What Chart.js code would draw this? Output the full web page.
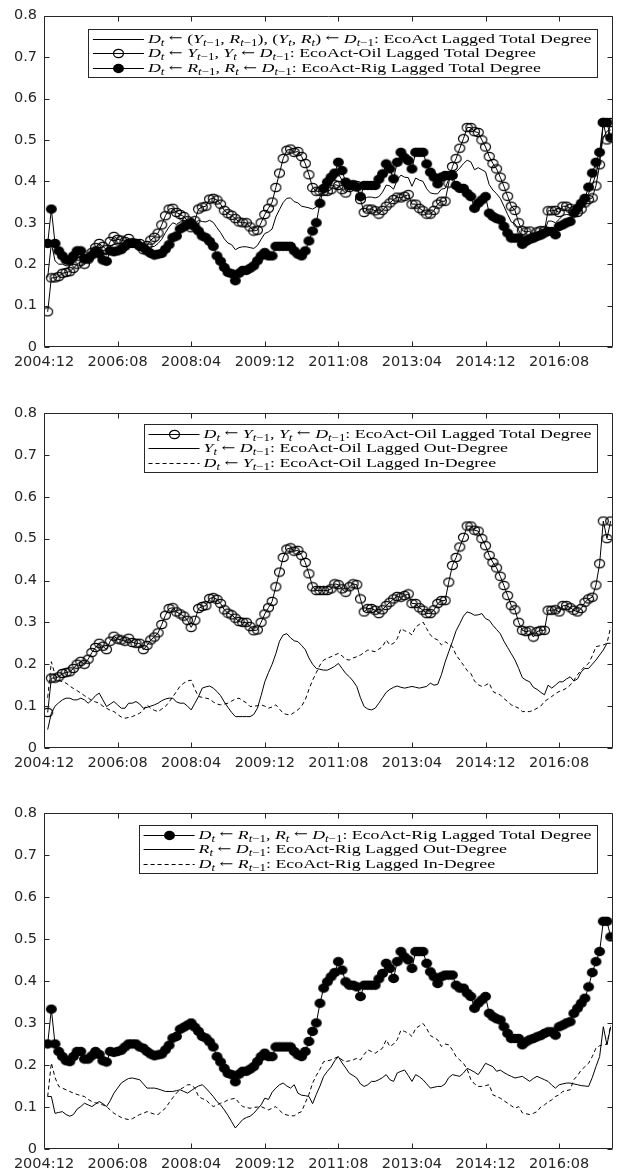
<!DOCTYPE html>
<html>
<head>
<meta charset="utf-8">
<script src="https://cdn.jsdelivr.net/npm/chart.js@4.4.1/dist/chart.umd.min.js"></script>
<style>
  html, body { margin: 0; padding: 0; background: #fff; }
  #wrap { position: relative; width: 618px; height: 1175px; overflow: hidden; background: #fff; }
  #wrap canvas { position: absolute; left: 0; }
</style>
</head>
<body>
<div id="wrap">
  <canvas id="p1" width="618" height="390" style="top:0px"></canvas>
  <canvas id="p2" width="618" height="390" style="top:390px"></canvas>
  <canvas id="p3" width="618" height="395" style="top:780px"></canvas>
</div>
<script>
// ---- x axis: monthly observations, ticks every 20 months ----
const tickLabels = ['2004:12', '2006:08', '2008:04', '2009:12', '2011:08', '2013:04', '2014:12', '2016:08'];
const firstMonth = '2005:01';

// ---- lagged degree series, one value per month from 2005:01 ----
const ecoActTotal = [
  0.168, 0.250, 0.208, 0.200, 0.200, 0.196, 0.196, 0.205, 0.215, 0.220,
  0.208, 0.213, 0.225, 0.236, 0.238, 0.227, 0.222, 0.243, 0.248, 0.246,
  0.246, 0.249, 0.256, 0.251, 0.250, 0.246, 0.238, 0.238, 0.242, 0.243,
  0.250, 0.260, 0.276, 0.290, 0.300, 0.296, 0.302, 0.302, 0.300, 0.294,
  0.298, 0.306, 0.303, 0.302, 0.306, 0.301, 0.288, 0.276, 0.261, 0.251,
  0.247, 0.235, 0.240, 0.242, 0.242, 0.240, 0.238, 0.245, 0.260, 0.274,
  0.278, 0.285, 0.314, 0.332, 0.349, 0.359, 0.360, 0.351, 0.348, 0.340,
  0.338, 0.336, 0.333, 0.338, 0.362, 0.380, 0.387, 0.395, 0.406, 0.418,
  0.403, 0.385, 0.388, 0.391, 0.388, 0.360, 0.358, 0.362, 0.362, 0.360,
  0.363, 0.374, 0.391, 0.389, 0.381, 0.404, 0.415, 0.410, 0.409, 0.388,
  0.408, 0.403, 0.400, 0.382, 0.372, 0.370, 0.370, 0.381, 0.383, 0.405,
  0.425, 0.423, 0.432, 0.443, 0.451, 0.447, 0.428, 0.433, 0.428, 0.423,
  0.392, 0.379, 0.370, 0.359, 0.340, 0.320, 0.302, 0.297, 0.282, 0.265,
  0.267, 0.270, 0.264, 0.273, 0.276, 0.278, 0.304, 0.304, 0.300, 0.308,
  0.318, 0.320, 0.319, 0.326, 0.330, 0.340, 0.354, 0.371, 0.390, 0.418,
  0.455, 0.506, 0.521, 0.524
];

const ecoActOilTotal = [
  0.085, 0.167, 0.167, 0.170, 0.178, 0.180, 0.182, 0.190, 0.200, 0.207,
  0.200, 0.212, 0.228, 0.240, 0.250, 0.243, 0.235, 0.255, 0.267, 0.260,
  0.258, 0.255, 0.262, 0.252, 0.250, 0.250, 0.235, 0.245, 0.258, 0.265,
  0.275, 0.295, 0.317, 0.333, 0.335, 0.325, 0.320, 0.315, 0.305, 0.288,
  0.305, 0.333, 0.338, 0.340, 0.357, 0.359, 0.355, 0.345, 0.330, 0.322,
  0.318, 0.310, 0.302, 0.300, 0.300, 0.290, 0.280, 0.282, 0.300, 0.320,
  0.335, 0.350, 0.385, 0.420, 0.455, 0.475, 0.478, 0.470, 0.472, 0.460,
  0.443, 0.416, 0.385, 0.376, 0.376, 0.376, 0.376, 0.380, 0.392, 0.390,
  0.380, 0.372, 0.385, 0.392, 0.390, 0.356, 0.325, 0.333, 0.333, 0.329,
  0.321, 0.330, 0.340, 0.348, 0.356, 0.362, 0.360, 0.364, 0.368, 0.345,
  0.345, 0.335, 0.329, 0.321, 0.321, 0.330, 0.345, 0.352, 0.352, 0.396,
  0.436, 0.455, 0.480, 0.503, 0.530, 0.530, 0.520, 0.518, 0.500, 0.483,
  0.460, 0.443, 0.430, 0.410, 0.388, 0.364, 0.340, 0.330, 0.300, 0.281,
  0.278, 0.280, 0.265, 0.278, 0.281, 0.281, 0.329, 0.329, 0.330, 0.325,
  0.340, 0.340, 0.335, 0.329, 0.325, 0.333, 0.348, 0.356, 0.360, 0.389,
  0.440, 0.542, 0.500, 0.542
];

const ecoActRigTotal = [
  0.250, 0.333, 0.250, 0.232, 0.220, 0.210, 0.208, 0.220, 0.232, 0.232,
  0.214, 0.214, 0.222, 0.232, 0.225, 0.210, 0.207, 0.232, 0.230, 0.232,
  0.235, 0.243, 0.250, 0.250, 0.250, 0.243, 0.240, 0.232, 0.226, 0.222,
  0.224, 0.226, 0.236, 0.247, 0.264, 0.268, 0.285, 0.290, 0.295, 0.300,
  0.290, 0.280, 0.268, 0.264, 0.255, 0.243, 0.220, 0.207, 0.192, 0.180,
  0.177, 0.160, 0.178, 0.185, 0.185, 0.190, 0.196, 0.208, 0.220, 0.228,
  0.220, 0.220, 0.243, 0.243, 0.243, 0.243, 0.243, 0.232, 0.224, 0.220,
  0.232, 0.256, 0.280, 0.300, 0.347, 0.383, 0.398, 0.410, 0.420, 0.446,
  0.426, 0.398, 0.390, 0.390, 0.386, 0.363, 0.390, 0.390, 0.390, 0.390,
  0.405, 0.418, 0.442, 0.430, 0.406, 0.446, 0.470, 0.457, 0.450, 0.430,
  0.470, 0.470, 0.470, 0.442, 0.422, 0.410, 0.394, 0.410, 0.414, 0.414,
  0.414, 0.390, 0.383, 0.383, 0.371, 0.363, 0.335, 0.347, 0.355, 0.363,
  0.323, 0.315, 0.310, 0.307, 0.291, 0.275, 0.263, 0.263, 0.263, 0.248,
  0.255, 0.260, 0.263, 0.267, 0.270, 0.275, 0.279, 0.279, 0.271, 0.291,
  0.295, 0.300, 0.303, 0.323, 0.335, 0.347, 0.359, 0.386, 0.420, 0.446,
  0.470, 0.542, 0.542, 0.505
];

const ecoActOilOut = [
  0.044, 0.083, 0.100, 0.108, 0.115, 0.119, 0.119, 0.115, 0.115, 0.119,
  0.115, 0.107, 0.115, 0.125, 0.131, 0.115, 0.099, 0.105, 0.111, 0.103,
  0.095, 0.095, 0.107, 0.107, 0.111, 0.105, 0.095, 0.097, 0.100, 0.103,
  0.107, 0.113, 0.117, 0.119, 0.119, 0.110, 0.107, 0.107, 0.100, 0.091,
  0.107, 0.123, 0.143, 0.146, 0.148, 0.143, 0.135, 0.125, 0.110, 0.097,
  0.085, 0.075, 0.075, 0.075, 0.075, 0.075, 0.080, 0.095, 0.125, 0.158,
  0.180, 0.200, 0.225, 0.255, 0.270, 0.273, 0.263, 0.256, 0.254, 0.245,
  0.235, 0.215, 0.200, 0.190, 0.188, 0.186, 0.186, 0.190, 0.195, 0.202,
  0.190, 0.178, 0.170, 0.160, 0.147, 0.120, 0.099, 0.093, 0.091, 0.095,
  0.107, 0.120, 0.133, 0.140, 0.145, 0.148, 0.145, 0.143, 0.145, 0.147,
  0.145, 0.143, 0.145, 0.147, 0.155, 0.150, 0.152, 0.175, 0.205, 0.230,
  0.254, 0.280, 0.297, 0.315, 0.325, 0.322, 0.317, 0.318, 0.321, 0.309,
  0.305, 0.293, 0.283, 0.273, 0.255, 0.240, 0.225, 0.210, 0.190, 0.168,
  0.162, 0.158, 0.145, 0.140, 0.133, 0.127, 0.150, 0.143, 0.150, 0.158,
  0.158, 0.165, 0.170, 0.160, 0.165, 0.182, 0.190, 0.190, 0.200, 0.210,
  0.222, 0.234, 0.250, 0.250
];

const ecoActOilIn = [
  0.120, 0.206, 0.175, 0.162, 0.158, 0.155, 0.148, 0.142, 0.137, 0.131,
  0.125, 0.120, 0.113, 0.110, 0.107, 0.100, 0.095, 0.090, 0.087, 0.080,
  0.074, 0.071, 0.073, 0.075, 0.079, 0.083, 0.090, 0.103, 0.095, 0.090,
  0.087, 0.093, 0.099, 0.110, 0.122, 0.135, 0.148, 0.155, 0.160, 0.162,
  0.140, 0.123, 0.121, 0.119, 0.117, 0.110, 0.105, 0.103, 0.105, 0.107,
  0.112, 0.117, 0.119, 0.113, 0.108, 0.099, 0.100, 0.101, 0.103, 0.100,
  0.095, 0.098, 0.103, 0.093, 0.083, 0.080, 0.079, 0.085, 0.091, 0.100,
  0.115, 0.140, 0.162, 0.180, 0.198, 0.210, 0.214, 0.218, 0.222, 0.226,
  0.220, 0.212, 0.210, 0.215, 0.218, 0.222, 0.228, 0.234, 0.232, 0.230,
  0.236, 0.242, 0.258, 0.246, 0.250, 0.261, 0.285, 0.280, 0.277, 0.270,
  0.289, 0.295, 0.301, 0.285, 0.270, 0.262, 0.258, 0.246, 0.254, 0.248,
  0.242, 0.222, 0.210, 0.198, 0.185, 0.178, 0.160, 0.151, 0.147, 0.150,
  0.155, 0.135, 0.130, 0.127, 0.118, 0.111, 0.103, 0.099, 0.095, 0.087,
  0.087, 0.087, 0.090, 0.095, 0.100, 0.111, 0.117, 0.123, 0.130, 0.135,
  0.138, 0.143, 0.150, 0.162, 0.175, 0.186, 0.195, 0.202, 0.220, 0.242,
  0.244, 0.246, 0.250, 0.289
];

const ecoActRigOut = [
  0.125, 0.125, 0.085, 0.087, 0.089, 0.082, 0.078, 0.082, 0.095, 0.101,
  0.109, 0.105, 0.101, 0.107, 0.113, 0.108, 0.101, 0.115, 0.133, 0.145,
  0.157, 0.163, 0.168, 0.169, 0.167, 0.165, 0.155, 0.145, 0.145, 0.145,
  0.143, 0.140, 0.137, 0.137, 0.137, 0.139, 0.141, 0.137, 0.133, 0.139,
  0.145, 0.150, 0.153, 0.145, 0.135, 0.125, 0.113, 0.105, 0.093, 0.080,
  0.065, 0.050, 0.060, 0.070, 0.075, 0.078, 0.085, 0.095, 0.105, 0.121,
  0.118, 0.135, 0.145, 0.153, 0.157, 0.150, 0.145, 0.153, 0.133, 0.128,
  0.127, 0.125, 0.108, 0.130, 0.150, 0.173, 0.185, 0.195, 0.210, 0.220,
  0.205, 0.193, 0.180, 0.175, 0.169, 0.155, 0.149, 0.153, 0.161, 0.161,
  0.165, 0.170, 0.177, 0.165, 0.161, 0.181, 0.185, 0.188, 0.175, 0.161,
  0.177, 0.172, 0.165, 0.155, 0.145, 0.147, 0.149, 0.149, 0.155, 0.170,
  0.177, 0.175, 0.173, 0.181, 0.192, 0.188, 0.183, 0.177, 0.190, 0.204,
  0.200, 0.196, 0.185, 0.188, 0.182, 0.177, 0.173, 0.169, 0.171, 0.173,
  0.167, 0.161, 0.168, 0.173, 0.169, 0.165, 0.161, 0.152, 0.145, 0.153,
  0.155, 0.157, 0.157, 0.155, 0.153, 0.151, 0.150, 0.149, 0.170, 0.196,
  0.220, 0.291, 0.248, 0.291
];

const ecoActRigIn = [
  0.125, 0.205, 0.170, 0.149, 0.145, 0.141, 0.137, 0.133, 0.130, 0.127,
  0.125, 0.118, 0.113, 0.110, 0.109, 0.105, 0.101, 0.093, 0.085, 0.080,
  0.075, 0.072, 0.070, 0.072, 0.077, 0.082, 0.085, 0.089, 0.086, 0.083,
  0.082, 0.090, 0.097, 0.110, 0.122, 0.133, 0.142, 0.147, 0.153, 0.153,
  0.145, 0.125, 0.120, 0.117, 0.108, 0.101, 0.105, 0.109, 0.112, 0.117,
  0.119, 0.121, 0.110, 0.101, 0.099, 0.097, 0.099, 0.100, 0.101, 0.097,
  0.093, 0.097, 0.101, 0.092, 0.084, 0.081, 0.079, 0.079, 0.085, 0.089,
  0.110, 0.130, 0.157, 0.175, 0.190, 0.208, 0.210, 0.212, 0.216, 0.220,
  0.212, 0.208, 0.210, 0.212, 0.216, 0.212, 0.225, 0.236, 0.232, 0.228,
  0.234, 0.240, 0.260, 0.244, 0.250, 0.260, 0.283, 0.280, 0.276, 0.268,
  0.287, 0.293, 0.299, 0.287, 0.270, 0.265, 0.260, 0.244, 0.250, 0.248,
  0.236, 0.220, 0.212, 0.204, 0.190, 0.165, 0.155, 0.149, 0.149, 0.151,
  0.153, 0.129, 0.125, 0.121, 0.115, 0.109, 0.103, 0.097, 0.101, 0.086,
  0.084, 0.082, 0.085, 0.089, 0.100, 0.105, 0.112, 0.117, 0.125, 0.129,
  0.137, 0.139, 0.141, 0.165, 0.175, 0.188, 0.196, 0.204, 0.220, 0.240,
  0.246, 0.248, 0.250, 0.295
];

// ---- helpers ----
function monthOffset(label) {            // months after 2004:12
  const [y, m] = label.split(':').map(Number);
  return (y - 2004) * 12 + (m - 12);
}
const tickMonths = tickLabels.map(monthOffset);
const start = monthOffset(firstMonth);
const nMonths = ecoActTotal.length;
const xMax = start + nMonths - 1 + 0.5;

function toPoints(values) {
  return values.map((v, i) => ({ x: start + i, y: v }));
}

function marker(filled) {
  const c = document.createElement('canvas');
  c.width = 13; c.height = 11;
  const g = c.getContext('2d');
  g.beginPath();
  if (filled) {
    g.ellipse(6.5, 5.5, 5.5, 4.7, 0, 0, Math.PI * 2);
    g.fillStyle = '#000';
    g.fill();
  } else {
    g.ellipse(6.5, 5.5, 5.0, 4.2, 0, 0, Math.PI * 2);
    g.lineWidth = 1.2;
    g.strokeStyle = '#000';
    g.stroke();
  }
  return c;
}
const openDot = marker(false);
const fullDot = marker(true);

const AXIS = '#262626';
const TICK_FONT = { family: "'DejaVu Sans', sans-serif", size: 14.5 };

const styles = {
  plain:  { borderDash: [],     pointStyle: false, radius: 0 },
  dashed: { borderDash: [4, 3], pointStyle: false, radius: 0 },
  open:   { borderDash: [],     pointStyle: openDot, radius: 4.5 },
  filled: { borderDash: [],     pointStyle: fullDot, radius: 4.5 }
};

// ---- rich legend text: $...$ holds math, _x / _{..} is a subscript ----
function parseRich(str) {
  const runs = [];
  str.split('$').forEach((part, k) => {
    if (k % 2 === 0) { if (part) runs.push({ t: part, it: false, sub: false }); return; }
    let i = 0;
    while (i < part.length) {
      const ch = part[i];
      if (ch === '_') {
        let s;
        if (part[i + 1] === '{') { const j = part.indexOf('}', i); s = part.slice(i + 2, j); i = j + 1; }
        else { s = part[i + 1]; i += 2; }
        for (const c of s) runs.push({ t: c, it: /[A-Za-z]/.test(c), sub: true });
      } else {
        runs.push({ t: ch, it: /[A-Za-z]/.test(ch), sub: false, arrow: ch === '←' });
        i++;
      }
    }
  });
  return runs;
}

const SERIF = "'Liberation Serif', 'DejaVu Serif', serif";
const ARROW_FONT = "'DejaVu Serif', serif";
const MAIN_PX = 13.5, SUB_PX = 9.8, STRETCH = 1.32;

function runFont(r) {
  if (r.arrow) return (MAIN_PX - 1) + 'px ' + ARROW_FONT;
  return (r.it ? 'italic ' : '') + (r.sub ? SUB_PX : MAIN_PX) + 'px ' + SERIF;
}
function richWidth(ctx, runs) {
  let w = 0;
  for (const r of runs) { ctx.font = runFont(r); w += ctx.measureText(r.t).width; }
  return w;
}
function drawRich(ctx, runs, x, baseline) {
  ctx.save();
  ctx.translate(x, baseline);
  ctx.scale(STRETCH, 1);
  ctx.fillStyle = '#000';
  ctx.textBaseline = 'alphabetic';
  ctx.textAlign = 'left';
  let cx = 0;
  for (const r of runs) {
    ctx.font = runFont(r);
    ctx.fillText(r.t, cx, r.sub ? 3 : (r.arrow ? -0.5 : 0));
    cx += ctx.measureText(r.t).width;
  }
  ctx.restore();
}

// frame, inward tick marks and the boxed legend
const decorPlugin = {
  id: 'decor',
  afterDatasetsDraw(chart) {
    const { ctx, chartArea: a, scales } = chart;
    const L = Math.round(a.left) + 0.5, R = Math.round(a.right) - 0.5;
    const T = Math.round(a.top) + 0.5, B = Math.round(a.bottom) - 0.5;
    ctx.save();
    ctx.strokeStyle = AXIS;
    ctx.lineWidth = 1;
    ctx.beginPath();
    ctx.rect(L, T, R - L, B - T);
    for (const m of tickMonths) {
      const x = Math.round(scales.x.getPixelForValue(m)) + 0.5;
      ctx.moveTo(x, B); ctx.lineTo(x, B - 5);
      ctx.moveTo(x, T); ctx.lineTo(x, T + 5);
    }
    for (const t of scales.y.ticks) {
      const y = Math.round(scales.y.getPixelForValue(t.value)) + 0.5;
      ctx.moveTo(L, y); ctx.lineTo(L + 5, y);
      ctx.moveTo(R, y); ctx.lineTo(R - 5, y);
    }
    ctx.stroke();
    ctx.restore();
  },
  afterDraw(chart) {
    const leg = chart.options.plugins.decor;
    if (!leg) return;
    const { ctx, chartArea: a } = chart;
    const rows = leg.rows.map(r => ({ ...r, runs: parseRich(r.text) }));
    const textW = Math.max(...rows.map(r => richWidth(ctx, r.runs))) * STRETCH;
    const right = Math.round(a.right - 16) + 0.5;
    const top = Math.round(a.top + leg.top) + 0.5;
    const textX = right - 6 - textW;
    const segEnd = textX - 4, segStart = segEnd - 51;
    const left = Math.round(segStart - 5) + 0.5;
    const height = 48;
    ctx.save();
    ctx.fillStyle = '#fff';
    ctx.fillRect(left, top, right - left, height);
    ctx.strokeStyle = AXIS;
    ctx.lineWidth = 1;
    ctx.strokeRect(left, top, right - left, height);
    rows.forEach((r, i) => {
      const y = top + 9 + i * 14.75;
      const st = styles[r.style];
      ctx.save();
      ctx.strokeStyle = '#000';
      ctx.lineWidth = 1;
      ctx.setLineDash(st.borderDash);
      ctx.beginPath();
      ctx.moveTo(segStart, Math.round(y) + 0.5);
      ctx.lineTo(segEnd, Math.round(y) + 0.5);
      ctx.stroke();
      ctx.restore();
      if (st.pointStyle) {
        const img = st.pointStyle;
        ctx.drawImage(img, Math.round((segStart + segEnd) / 2 - img.width / 2), Math.round(y) + 0.5 - img.height / 2);
      }
      drawRich(ctx, r.runs, textX, y + 4);
    });
    ctx.restore();
  }
};

function makePanel(id, series, legend, padTop, xAxisHeight) {
  const datasets = series.map((s, k) => {
    const st = styles[s.style];
    return {
      data: toPoints(s.values),
      order: k,
      borderColor: '#000',
      backgroundColor: '#000',
      borderWidth: 1,
      borderDash: st.borderDash,
      pointStyle: st.pointStyle || 'circle',
      pointRadius: st.radius,
      pointHoverRadius: st.radius,
      tension: 0,
      fill: false
    };
  });
  return new Chart(document.getElementById(id), {
    type: 'line',
    data: { datasets },
    plugins: [decorPlugin],
    options: {
      responsive: false,
      animation: false,
      events: [],
      layout: { padding: { top: padTop, right: 1, left: 0, bottom: 0 } },
      plugins: {
        legend: { display: false },
        tooltip: { enabled: false },
        decor: legend
      },
      scales: {
        x: {
          type: 'linear',
          min: 0,
          max: xMax,
          afterBuildTicks: s => { s.ticks = tickMonths.map(v => ({ value: v })); },
          afterFit: s => { s.height = xAxisHeight; },
          grid: { display: false, drawTicks: false },
          border: { display: false },
          ticks: {
            autoSkip: false, maxRotation: 0, padding: 7,
            color: AXIS, font: TICK_FONT,
            callback: (v, i) => tickLabels[i]
          }
        },
        y: {
          min: 0,
          max: 0.8,
          afterFit: s => { s.width = 44; },
          grid: { display: false, drawTicks: false },
          border: { display: false },
          ticks: { stepSize: 0.1, padding: 7, color: AXIS, font: TICK_FONT }
        }
      }
    }
  });
}

// series listed top-most first
makePanel('p1',
  [
    { values: ecoActRigTotal, style: 'filled' },
    { values: ecoActOilTotal, style: 'open' },
    { values: ecoActTotal, style: 'plain' }
  ],
  {
    top: 13,
    rows: [
      { style: 'plain',  text: '$D_t ← (Y_{t−1}, R_{t−1}), (Y_t, R_t) ← D_{t−1}$: EcoAct Lagged Total Degree' },
      { style: 'open',   text: '$D_t ← Y_{t−1}, Y_t ← D_{t−1}$: EcoAct-Oil Lagged Total Degree' },
      { style: 'filled', text: '$D_t ← R_{t−1}, R_t ← D_{t−1}$: EcoAct-Rig Lagged Total Degree' }
    ]
  },
  10, 43);

makePanel('p2',
  [
    { values: ecoActOilTotal, style: 'open' },
    { values: ecoActOilIn, style: 'dashed' },
    { values: ecoActOilOut, style: 'plain' }
  ],
  {
    top: 11,
    rows: [
      { style: 'open',   text: '$D_t ← Y_{t−1}, Y_t ← D_{t−1}$: EcoAct-Oil Lagged Total Degree' },
      { style: 'plain',  text: '$Y_t ← D_{t−1}$: EcoAct-Oil Lagged Out-Degree' },
      { style: 'dashed', text: '$D_t ← Y_{t−1}$: EcoAct-Oil Lagged In-Degree' }
    ]
  },
  23, 32);

makePanel('p3',
  [
    { values: ecoActRigTotal, style: 'filled' },
    { values: ecoActRigIn, style: 'dashed' },
    { values: ecoActRigOut, style: 'plain' }
  ],
  {
    top: 12,
    rows: [
      { style: 'filled', text: '$D_t ← R_{t−1}, R_t ← D_{t−1}$: EcoAct-Rig Lagged Total Degree' },
      { style: 'plain',  text: '$R_t ← D_{t−1}$: EcoAct-Rig Lagged Out-Degree' },
      { style: 'dashed', text: '$D_t ← R_{t−1}$: EcoAct-Rig Lagged In-Degree' }
    ]
  },
  33, 26);
</script>
</body>
</html>
